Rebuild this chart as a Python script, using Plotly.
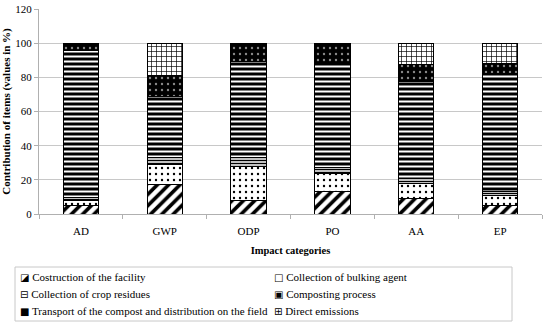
import plotly.graph_objects as go

categories = ["AD", "GWP", "ODP", "PO", "AA", "EP"]
construction = [5, 17, 8, 13, 9, 5]
bulking = [3, 12, 20, 10.5, 9, 6]
crop_residues = [1.5, 4, 5, 3.5, 2.5, 2]
composting = [86.5, 36, 56, 61, 57, 69]
transport = [4, 12, 11, 12, 10, 6]
direct = [0, 19, 0, 0, 12.5, 12]

series_names = [
    "Costruction of the facility",
    "Collection of bulking agent",
    "Collection of crop residues",
    "Composting process",
    "Transport of the compost and distribution on the field",
    "Direct emissions",
]
legend_icons = ["◪", "□", "⊟", "▣", "■", "⊞"]
series_values = [construction, bulking, crop_residues, composting, transport, direct]
patterns = [
    dict(shape="/", fgcolor="black", bgcolor="white", size=8, solidity=0.45, fillmode="replace"),
    dict(shape=".", fgcolor="black", bgcolor="white", size=6, solidity=0.12, fillmode="replace"),
    dict(shape="-", fgcolor="black", bgcolor="white", size=3, solidity=0.5, fillmode="replace"),
    dict(shape="-", fgcolor="white", bgcolor="black", size=5, solidity=0.4, fillmode="replace"),
    dict(shape=".", fgcolor="#888888", bgcolor="black", size=6, solidity=0.12, fillmode="replace"),
    dict(shape="+", fgcolor="black", bgcolor="white", size=5, solidity=0.25, fillmode="replace"),
]

fig = go.Figure()
for name, vals, pat in zip(series_names, series_values, patterns):
    fig.add_trace(go.Bar(
        x=categories, y=vals, name=name, showlegend=False,
        marker=dict(color="white", pattern=pat, line=dict(color="black", width=1)),
    ))

font_family = "Liberation Serif"

# plot area in pixels: x 39..542, y 9..214
L, R, T, B = 39, 542, 9, 214
def px_x(p):
    return (p - L) / (R - L)
def px_y(p):
    return (B - p) / (B - T)

# legend box
fig.add_shape(type="rect", xref="paper", yref="paper",
              x0=px_x(15), x1=px_x(512), y0=px_y(321), y1=px_y(267),
              line=dict(color="#c8c8c8", width=1), fillcolor="white", layer="below")

col_x = [18, 272]
row_y = [277, 294, 311]
for i, (name, icon) in enumerate(zip(series_names, legend_icons)):
    r, c = divmod(i, 2)
    fig.add_annotation(
        xref="paper", yref="paper", x=px_x(col_x[c]), y=px_y(row_y[r]),
        xanchor="left", yanchor="middle", showarrow=False,
        text=f"<span style='font-family:DejaVu Sans;font-size:10px'>{icon}</span> {name}",
        font=dict(family=font_family, size=11, color="black"),
    )

fig.update_layout(
    barmode="stack",
    bargap=0.58,
    width=550, height=326,
    margin=dict(l=L, r=550 - R, t=T, b=326 - B, autoexpand=False),
    paper_bgcolor="white", plot_bgcolor="white",
    font=dict(family=font_family, size=11, color="black"),
    showlegend=False,
    xaxis=dict(
        title=dict(text="<b>Impact categories</b>", font=dict(size=10.5), standoff=10),
        showline=True, linecolor="#b0b0b0", ticks="outside", tickson="boundaries",
        tickcolor="#b0b0b0", ticklen=4, tickfont=dict(size=11), ticklabelstandoff=7,
    ),
    yaxis=dict(
        title=dict(text="<b>Contribution of items (values in %)</b>", font=dict(size=11), standoff=9),
        range=[0, 120], dtick=20, showgrid=True, gridcolor="#c8c8c8",
        showline=True, linecolor="#b0b0b0", ticks="outside", tickcolor="#b0b0b0", ticklen=4,
        tickfont=dict(size=11), zeroline=False,
    ),
)

fig.write_html("out.html", config={"displayModeBar": False},
               post_script="document.body.style.margin='0';document.body.style.overflow='hidden';")
